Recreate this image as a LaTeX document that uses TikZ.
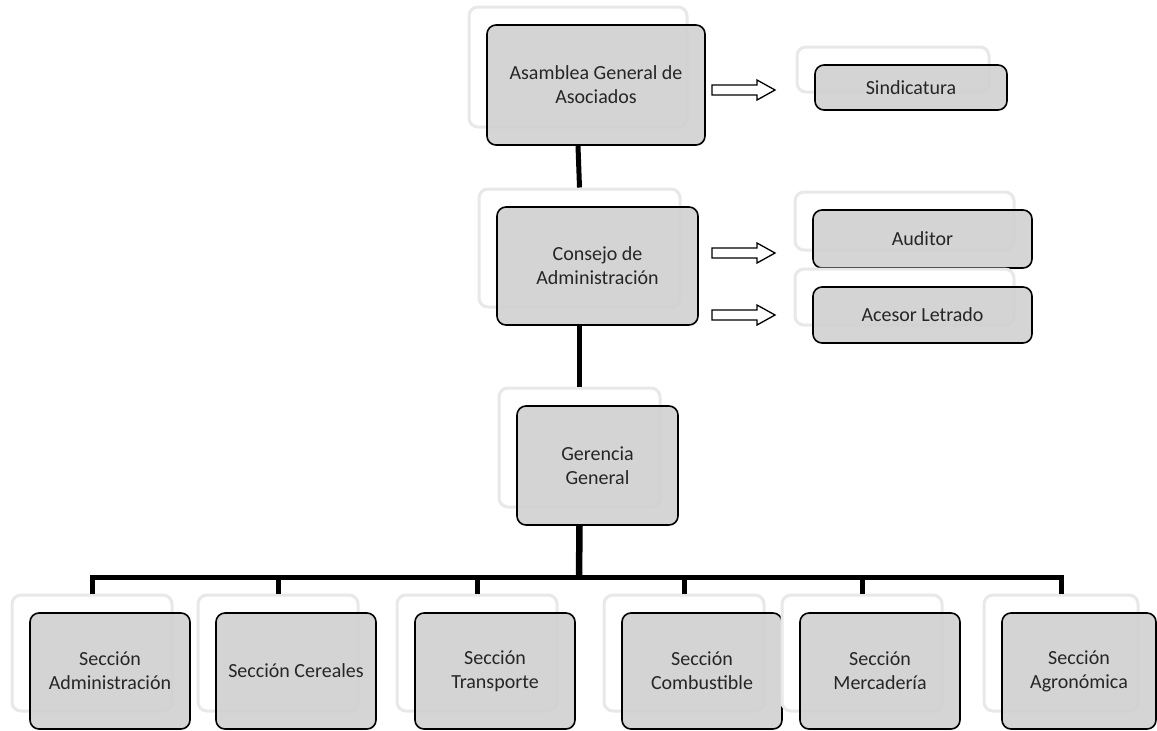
\documentclass[tikz,border=0pt]{standalone}
\usepackage{fontspec}
\setmainfont{Carlito}
\begin{document}
\begin{tikzpicture}[x=1pt,y=-1pt,
  front/.style={draw=black, line width=1.6pt, rounded corners=9pt, fill=black!18, fill opacity=0.92, text opacity=1, text=black!85, align=center, font=\fontsize{20}{24}\selectfont, inner sep=0pt},
  back/.style={draw=black!9, line width=3pt, rounded corners=9pt, fill=white, inner sep=0pt},
  conn/.style={line width=5pt, line join=miter},
  trunk/.style={line width=6.5pt},
  hollow/.style={draw=black, line width=1.3pt, fill=white, line join=miter}]
\useasboundingbox (0,0) rectangle (1157,731);
\newcommand\orgbox[6]{%
  \node[back, minimum width=#4, minimum height=#5] (#1b) at ({#2-18},{#3-18}) {};
  \node[front, minimum width=#4, minimum height=#5] (#1) at (#2,#3) {#6};}
\newcommand\harrow[1]{\draw[hollow] (#1) ++(-31.5,-5) -- ++(45,0) -- ++(0,-5) -- ++(18,10) -- ++(-18,10) -- ++(0,-5) -- ++(-45,0) -- cycle;}
\coordinate (bus) at (579,577);
% boxes
\orgbox{asam}{596}{85}{218pt}{120pt}{Asamblea General de\\Asociados}
\orgbox{cons}{597.5}{266}{201pt}{118pt}{Consejo de\\Administración}
\orgbox{ger}{597.5}{465.5}{161pt}{119pt}{Gerencia\\General}
\orgbox{sind}{911}{87.5}{192pt}{45pt}{Sindicatura}
\orgbox{aud}{922.5}{239}{219pt}{58pt}{Auditor}
\orgbox{ace}{922.5}{315}{219pt}{56pt}{Acesor Letrado}
\orgbox{sa}{110}{671}{160pt}{116pt}{Sección\\Administración}
\orgbox{sc}{296}{671}{160pt}{116pt}{Sección Cereales}
\orgbox{st}{495}{671}{160pt}{116pt}{Sección\\Transporte}
\orgbox{sb}{702}{671}{160pt}{116pt}{Sección\\Combustible}
\orgbox{sm}{880}{671}{160pt}{116pt}{Sección\\Mercadería}
\orgbox{sg}{1079}{671}{154pt}{116pt}{Sección\\Agronómica}
% vertical links
\draw[conn] (asamb.center |- asam.south) -- (consb.north);
\draw[conn] (consb.center |- cons.south) -- (gerb.north);
\draw[trunk] (gerb.center |- ger.south) -- (bus);
\draw[conn] (sab.north) |- (bus) -| (sgb.north);
\draw[conn] (scb.north) -- (scb.north |- bus);
\draw[conn] (stb.north) -- (stb.north |- bus);
\draw[conn] (sbb.north) -- (sbb.north |- bus);
\draw[conn] (smb.north) -- (smb.north |- bus);
% hollow arrows
\coordinate (a1) at (743.5,90);
\coordinate (a2) at (743.5,253);
\coordinate (a3) at (743.5,315);
\harrow{a1}
\harrow{a2}
\harrow{a3}
\end{tikzpicture}
\end{document}
